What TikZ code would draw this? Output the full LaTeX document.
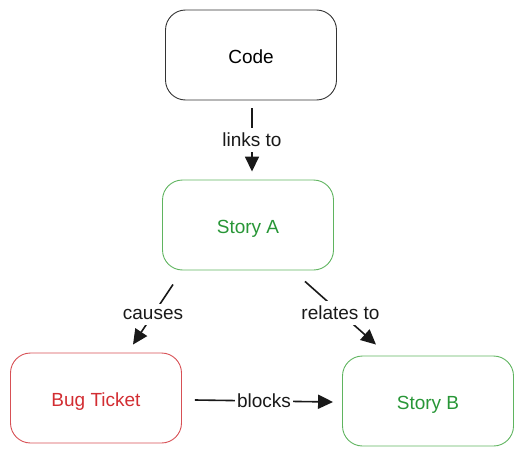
\documentclass[tikz,border=0pt]{standalone}
\usepackage{fontspec}
\setmainfont{Liberation Sans}
\usetikzlibrary{arrows.meta}
\definecolor{greentxt}{RGB}{40,150,55}
\definecolor{greenbrd}{RGB}{95,180,95}
\definecolor{redtxt}{RGB}{210,45,50}
\definecolor{redbrd}{RGB}{215,80,85}
\definecolor{linec}{RGB}{25,25,25}
\begin{document}
\begin{tikzpicture}[x=1pt,y=-1pt,
  box/.style={draw, rounded corners=20pt, minimum width=171pt, minimum height=90pt, line width=0.9pt, font=\fontsize{19}{22}\selectfont, inner sep=0pt, text height=17.5pt, text depth=0pt},
  conn/.style={draw=linec, line width=1.6pt, -{Triangle[length=15pt,width=14pt]}},
  lbl/.style={fill=white, inner xsep=2pt, inner ysep=5pt, font=\fontsize{19}{22}\selectfont, text=linec}]
\useasboundingbox (0,0) rectangle (525,455);
\node[box, draw=black!80] (code) at (251,55) {Code};
\node[box, draw=greenbrd, text=greentxt] (sa) at (248,225) {Story A};
\node[box, draw=redbrd, text=redtxt] (bug) at (96,398) {Bug Ticket};
\node[box, draw=greenbrd, text=greentxt] (sb) at (428,401) {Story B};
\draw[conn] ([xshift=1pt,yshift=-8pt]code.south) -- node[lbl] {links to} ([xshift=4pt,yshift=8pt]sa.north);
\draw[conn] ([xshift=-75pt,yshift=-14pt]sa.south) -- node[lbl] {causes} ([xshift=37pt,yshift=8pt]bug.north);
\draw[conn] ([xshift=57pt,yshift=-11pt]sa.south) -- node[lbl] {relates to} ([xshift=-52pt,yshift=11pt]sb.north);
\draw[conn] ([xshift=13pt,yshift=-2pt]bug.east) -- node[lbl] {blocks} ([xshift=-9pt,yshift=-1pt]sb.west);
\end{tikzpicture}
\end{document}
